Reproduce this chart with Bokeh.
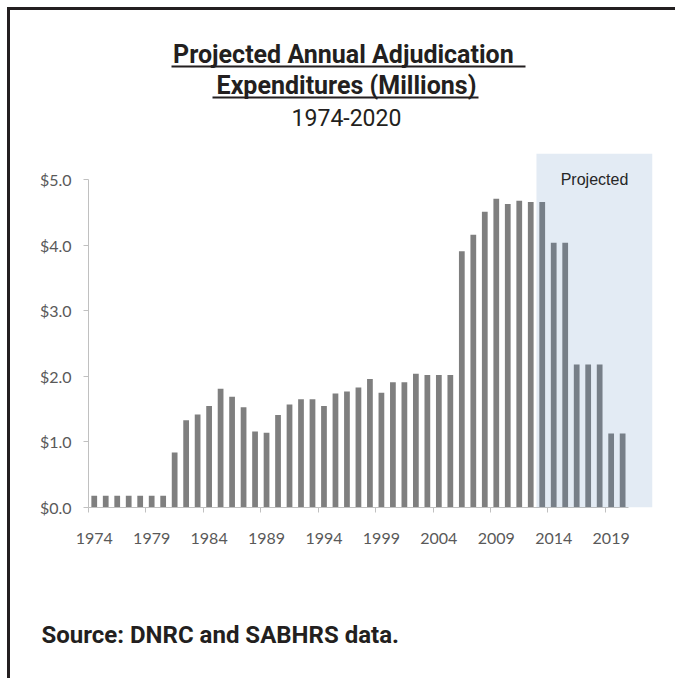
from bokeh.plotting import figure
from bokeh.layouts import column, row
from bokeh.models import Range1d, FixedTicker, NumeralTickFormatter, BoxAnnotation, Label, Spacer, Title
from bokeh.embed import file_html
from bokeh.resources import INLINE

# ---- data ----
years = list(range(1974, 2021))
expenditures = [0.18, 0.18, 0.18, 0.18, 0.18, 0.18, 0.18,
                0.84, 1.33, 1.42, 1.55, 1.81, 1.69, 1.53, 1.16, 1.14,
                1.41, 1.57, 1.65, 1.65, 1.55, 1.74, 1.77, 1.83, 1.96,
                1.75, 1.91, 1.91, 2.04, 2.02, 2.02, 2.02, 3.91, 4.16,
                4.51, 4.71, 4.63, 4.68, 4.66, 4.66, 4.04, 4.04, 2.18,
                2.18, 2.18, 1.13, 1.13]
label_years = [1974, 1979, 1984, 1989, 1994, 1999, 2004, 2009, 2014, 2019]
y_ticks = [0, 1, 2, 3, 4, 5]
projected_start = 2013

title_line1 = "Projected Annual Adjudication "
title_line2 = "Expenditures (Millions)"
title_line3 = "1974-2020"
source_text = "Source:  DNRC and SABHRS data."
projected_label = "Projected"

W = 665
BL, BR = 78, 23          # plot borders shared by all stacked figures
INK = "#231f20"
TFONT = "Roboto"
DY = 9                   # baseline correction


def blank(height):
    f = figure(width=W, height=height, x_range=Range1d(BL, W - BR), y_range=Range1d(height, 0),
               x_axis_type=None, y_axis_type=None, output_backend="svg",
               toolbar_location=None, min_border_left=BL, min_border_right=BR,
               min_border_top=0, min_border_bottom=0)
    f.grid.visible = False
    f.outline_line_color = None
    return f


# ---- frame lines ----
top_line = Spacer(width=W, height=3, margin=(0, 0, 0, 0), styles={"background-color": INK})
left_line = Spacer(width=3, height=671, margin=(0, 0, 0, 0), styles={"background-color": INK})

# ---- header ----
HH = 138
header = blank(HH)
header.add_layout(Label(x=336, y=53 - DY, text=title_line1, text_font=TFONT, text_font_style="bold",
                        text_font_size="25px", text_align="center", text_baseline="alphabetic",
                        text_color=INK))
header.segment(x0=[161], y0=[56], x1=[515], y1=[56], line_width=2, line_color=INK)
header.add_layout(Label(x=336, y=84 - DY, text=title_line2, text_font=TFONT, text_font_style="bold",
                        text_font_size="25px", text_align="center", text_baseline="alphabetic",
                        text_color=INK))
header.segment(x0=[202], y0=[87], x1=[468], y1=[87], line_width=2, line_color=INK)
header.add_layout(Label(x=336, y=116 - DY, text=title_line3, text_font=TFONT,
                        text_font_size="23px", text_align="center", text_baseline="alphabetic",
                        text_color=INK))

# ---- main chart ----
x0 = years[0] - 0.5
x1 = years[-1] + 0.5
p = figure(width=W, height=412, x_range=Range1d(x0, 2022.6), y_range=Range1d(0, 5.4),
           output_backend="svg", toolbar_location=None,
           min_border_left=BL, min_border_right=BR, min_border_top=5, min_border_bottom=53)
p.grid.visible = False
p.outline_line_color = None
p.background_fill_color = "white"

p.vbar(x=years, top=expenditures, width=0.5, fill_color="#7f7f7f", line_color=None)

box = BoxAnnotation(left=projected_start - 0.5, bottom=0, fill_color="#4f81bd",
                    fill_alpha=0.16, line_color=None)
p.add_layout(box)
p.add_layout(Label(x=(projected_start - 0.5 + 2022.6) / 2, y=5.0, text=projected_label,
                   text_font="Liberation Sans", text_font_size="16px", text_color="#262626",
                   text_align="center", text_baseline="middle"))

AX = "#c0c0c0"
LBL = "#595959"
xa = p.xaxis[0]
xa.ticker = FixedTicker(ticks=label_years, minor_ticks=[y - 0.5 for y in label_years])
xa.bounds = (x0, x1)
xa.axis_line_color = AX
xa.major_tick_line_color = None
xa.major_tick_out = 0
xa.major_tick_in = 0
xa.minor_tick_line_color = AX
xa.minor_tick_out = 5
xa.minor_tick_in = 0
xa.major_label_standoff = 20
xa.major_label_text_font = "Lato"
xa.major_label_text_font_size = "16px"
xa.major_label_text_color = LBL

ya = p.yaxis[0]
ya.ticker = FixedTicker(ticks=y_ticks, minor_ticks=[])
ya.bounds = (0, 5)
ya.formatter = NumeralTickFormatter(format="$0.0")
ya.axis_line_color = AX
ya.major_tick_line_color = AX
ya.major_tick_out = 5
ya.major_tick_in = 0
ya.minor_tick_line_color = None
ya.major_label_standoff = 12
ya.major_label_text_font = "Lato"
ya.major_label_text_font_size = "16px"
ya.major_label_text_color = LBL

# ---- footer (source line as an unclipped title) ----
gap = Spacer(width=W, height=60, margin=(0, 0, 0, 0))
footer = blank(58)
footer.add_layout(Title(text=source_text, align="left", offset=31 - BL, vertical_align="top",
                        standoff=0, text_font=TFONT, text_font_style="bold",
                        text_font_size="24px", text_color=INK), "above")

content = column(top_line, header, p, gap, footer, spacing=0)
layout = column(Spacer(width=10, height=7, margin=(0, 0, 0, 0)),
                row(Spacer(width=7, height=10, margin=(0, 0, 0, 0)), left_line, content, spacing=0),
                spacing=0)

open("out.html", "w").write(file_html(layout, INLINE))
